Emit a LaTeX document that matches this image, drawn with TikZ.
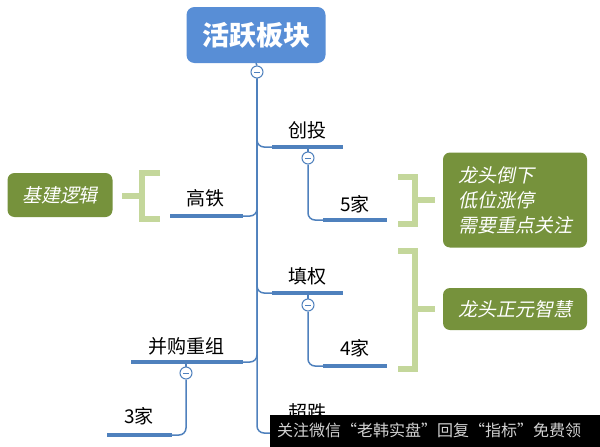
\documentclass[tikz,border=0pt]{standalone}
\usepackage{fontspec}
\setmainfont{Noto Sans CJK SC}
\newfontfamily\cjkit[FakeSlant=0.2]{Noto Sans CJK SC}
\definecolor{rootblue}{RGB}{88,142,214}
\definecolor{lineblue}{RGB}{79,129,189}
\definecolor{boxgreen}{RGB}{118,146,60}
\definecolor{brkgreen}{RGB}{196,215,155}
\begin{document}
\begin{tikzpicture}[x=1pt,y=-1pt,
  conn/.style={draw=lineblue, line width=1.5pt, rounded corners=7pt},
  uline/.style={draw=lineblue, line width=4pt},
  topic/.style={font=\fontsize{19}{19}\selectfont, text=black, inner sep=0pt},
  rootbox/.style={fill=rootblue, rounded corners=8pt, minimum width=139pt, minimum height=56pt, text=white, font=\fontsize{27}{27}\selectfont\bfseries},
  notebox/.style={fill=boxgreen, rounded corners=7pt, text=white, font=\cjkit\fontsize{19}{25}\selectfont, inner sep=0pt},
  brk/.style={draw=brkgreen, line width=6pt, line join=miter},
  collapse/.style={circle, draw=lineblue, fill=white, line width=1pt, minimum size=12pt, inner sep=0pt,
    path picture={\draw[lineblue, line width=1pt] ([xshift=-3pt]path picture bounding box.center) -- ([xshift=3pt]path picture bounding box.center);}}
]
\useasboundingbox (0,0) rectangle (600,447);
\fill[white] (0,0) rectangle (600,447);

% root
\node[rootbox] (root) at (256,35) {活跃板块};
\node[collapse] (c0) at (257,72) {};
\draw[conn] (root.south) -- (c0.north);

% topics
\node[topic] (ct) at (307,130) {创投};
\coordinate (ctL) at (272,147); \coordinate (ctR) at (343,147);
\node[topic] (gt) at (205,198) {高铁};
\coordinate (gtL) at (170,216); \coordinate (gtR) at (243,216);
\node[topic] (tq) at (307,276) {填权};
\coordinate (tqL) at (272,293); \coordinate (tqR) at (343,293);
\node[topic] (bg) at (186,346) {并购重组};
\coordinate (bgL) at (131,362); \coordinate (bgR) at (243,362);
\node[topic] (cd) at (307,412) {超跌};
\coordinate (cdL) at (272,433); \coordinate (cdR) at (343,433);

% subtopics
\node[topic] (j5) at (355,204) {5家};
\coordinate (j5L) at (323,220); \coordinate (j5R) at (387,220);
\node[topic] (j4) at (355,348) {4家};
\coordinate (j4L) at (323,366); \coordinate (j4R) at (387,366);
\node[topic] (j3) at (139,416) {3家};
\coordinate (j3L) at (107,435); \coordinate (j3R) at (172,435);

% trunk connectors
\draw[conn] (c0.south) |- (cdL);
\draw[conn] (c0.south) |- (ctL);
\draw[conn] (c0.south) |- (gtR);
\draw[conn] (c0.south) |- (tqL);
\draw[conn] (c0.south) |- (bgR);

% collapse circles of topics
\node[collapse] (c1) at (308,158) {};
\node[collapse] (c2) at (308,305) {};
\node[collapse] (c3) at (186,373) {};
\draw[conn] (c1.north) -- (c1.north |- ctL);
\draw[conn] (c2.north) -- (c2.north |- tqL);
\draw[conn] (c3.north) -- (c3.north |- bgL);
\draw[conn] (c1.south) |- (j5L);
\draw[conn] (c2.south) |- (j4L);
\draw[conn] (c3.south) |- (j3R);

% underlines
\draw[uline] (ctL) -- (ctR);
\draw[uline] (gtL) -- (gtR);
\draw[uline] (tqL) -- (tqR);
\draw[uline] (bgL) -- (bgR);
\draw[uline] (cdL) -- (cdR);
\draw[uline] (j5L) -- (j5R);
\draw[uline] (j4L) -- (j4R);
\draw[uline] (j3L) -- (j3R);

% note boxes
\node[notebox, minimum width=105pt, minimum height=44pt] (jj) at (60,195) {基建逻辑};
\node[notebox, minimum width=144pt, minimum height=95pt, align=left] (n1) at (515,200) {龙头倒下\\低位涨停\\需要重点关注};
\node[notebox, minimum width=144pt, minimum height=42pt] (n2) at (515,309) {龙头正元智慧};

% brackets
\coordinate (b1t) at (160,173); \coordinate (b1b) at (160,219);
\draw[brk] (b1t) -- (142,173) -- (142,219) -- (b1b);
\draw[brk] (142,196) -- ([xshift=9pt]jj.east |- 142,196);
\coordinate (b2t) at (398,177); \coordinate (b2b) at (398,224);
\draw[brk] (b2t) -- (415,177) -- (415,224) -- (b2b);
\draw[brk] (415,200) -- ([xshift=-8pt]n1.west |- 415,200);
\coordinate (b3t) at (398,251); \coordinate (b3b) at (398,369);
\draw[brk] (b3t) -- (415,251) -- (415,369) -- (b3b);
\draw[brk] (415,309) -- ([xshift=-8pt]n2.west);

% watermark bar
\fill[black] (270,415) rectangle (600,447);
\node[text=white!82!black, font=\fontsize{16}{16}\selectfont, anchor=west, inner sep=0pt] (wm) at (277,430) {关注微信“老韩实盘”回复“指标”免费领};
\end{tikzpicture}
\end{document}
